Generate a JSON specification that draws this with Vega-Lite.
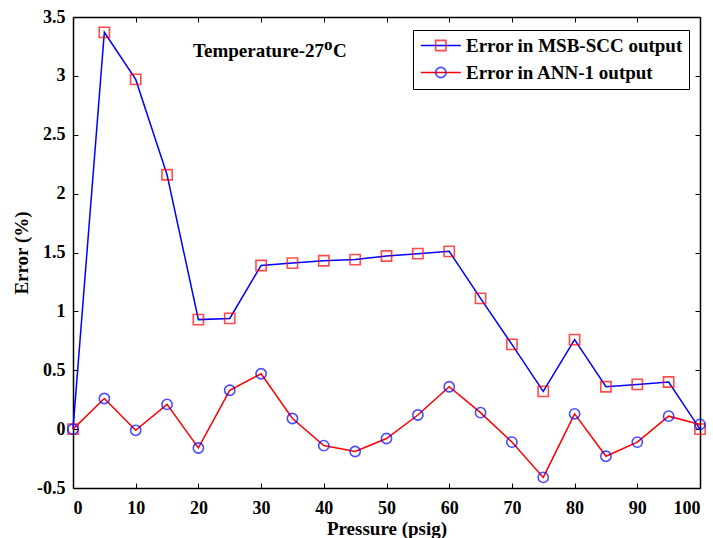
{
  "$schema": "https://vega.github.io/schema/vega-lite/v6.json",
  "width": 627,
  "height": 471,
  "autosize": "none",
  "padding": {"left": 73, "top": 17, "right": 13, "bottom": 50},
  "background": "white",
  "config": {
    "font": "Liberation Serif",
    "view": {"stroke": null},
    "axis": {
      "labelFont": "Liberation Serif", "labelFontWeight": "bold", "labelFontSize": 18, "labelColor": "black",
      "titleFont": "Liberation Serif", "titleFontWeight": "bold", "titleFontSize": 19, "titleColor": "black",
      "domainColor": "black", "domainWidth": 1.5, "tickColor": "black", "tickWidth": 1, "tickSize": -5,
      "grid": false
    }
  },
  "datasets": {
    "pts": [
      {"p": 0, "v": 0.0, "s1": "Error in MSB-SCC output", "s2": "MSB-SCC"},
      {"p": 5, "v": 3.37, "s1": "Error in MSB-SCC output", "s2": "MSB-SCC"},
      {"p": 10, "v": 2.97, "s1": "Error in MSB-SCC output", "s2": "MSB-SCC"},
      {"p": 15, "v": 2.16, "s1": "Error in MSB-SCC output", "s2": "MSB-SCC"},
      {"p": 20, "v": 0.93, "s1": "Error in MSB-SCC output", "s2": "MSB-SCC"},
      {"p": 25, "v": 0.94, "s1": "Error in MSB-SCC output", "s2": "MSB-SCC"},
      {"p": 30, "v": 1.39, "s1": "Error in MSB-SCC output", "s2": "MSB-SCC"},
      {"p": 35, "v": 1.41, "s1": "Error in MSB-SCC output", "s2": "MSB-SCC"},
      {"p": 40, "v": 1.43, "s1": "Error in MSB-SCC output", "s2": "MSB-SCC"},
      {"p": 45, "v": 1.44, "s1": "Error in MSB-SCC output", "s2": "MSB-SCC"},
      {"p": 50, "v": 1.47, "s1": "Error in MSB-SCC output", "s2": "MSB-SCC"},
      {"p": 55, "v": 1.49, "s1": "Error in MSB-SCC output", "s2": "MSB-SCC"},
      {"p": 60, "v": 1.51, "s1": "Error in MSB-SCC output", "s2": "MSB-SCC"},
      {"p": 65, "v": 1.11, "s1": "Error in MSB-SCC output", "s2": "MSB-SCC"},
      {"p": 70, "v": 0.72, "s1": "Error in MSB-SCC output", "s2": "MSB-SCC"},
      {"p": 75, "v": 0.32, "s1": "Error in MSB-SCC output", "s2": "MSB-SCC"},
      {"p": 80, "v": 0.76, "s1": "Error in MSB-SCC output", "s2": "MSB-SCC"},
      {"p": 85, "v": 0.36, "s1": "Error in MSB-SCC output", "s2": "MSB-SCC"},
      {"p": 90, "v": 0.38, "s1": "Error in MSB-SCC output", "s2": "MSB-SCC"},
      {"p": 95, "v": 0.40, "s1": "Error in MSB-SCC output", "s2": "MSB-SCC"},
      {"p": 100, "v": 0.0, "s1": "Error in MSB-SCC output", "s2": "MSB-SCC"},
      {"p": 0, "v": 0.0, "s1": "Error in ANN-1 output", "s2": "ANN-1"},
      {"p": 5, "v": 0.26, "s1": "Error in ANN-1 output", "s2": "ANN-1"},
      {"p": 10, "v": -0.01, "s1": "Error in ANN-1 output", "s2": "ANN-1"},
      {"p": 15, "v": 0.21, "s1": "Error in ANN-1 output", "s2": "ANN-1"},
      {"p": 20, "v": -0.16, "s1": "Error in ANN-1 output", "s2": "ANN-1"},
      {"p": 25, "v": 0.33, "s1": "Error in ANN-1 output", "s2": "ANN-1"},
      {"p": 30, "v": 0.47, "s1": "Error in ANN-1 output", "s2": "ANN-1"},
      {"p": 35, "v": 0.09, "s1": "Error in ANN-1 output", "s2": "ANN-1"},
      {"p": 40, "v": -0.14, "s1": "Error in ANN-1 output", "s2": "ANN-1"},
      {"p": 45, "v": -0.19, "s1": "Error in ANN-1 output", "s2": "ANN-1"},
      {"p": 50, "v": -0.08, "s1": "Error in ANN-1 output", "s2": "ANN-1"},
      {"p": 55, "v": 0.12, "s1": "Error in ANN-1 output", "s2": "ANN-1"},
      {"p": 60, "v": 0.36, "s1": "Error in ANN-1 output", "s2": "ANN-1"},
      {"p": 65, "v": 0.14, "s1": "Error in ANN-1 output", "s2": "ANN-1"},
      {"p": 70, "v": -0.11, "s1": "Error in ANN-1 output", "s2": "ANN-1"},
      {"p": 75, "v": -0.41, "s1": "Error in ANN-1 output", "s2": "ANN-1"},
      {"p": 80, "v": 0.13, "s1": "Error in ANN-1 output", "s2": "ANN-1"},
      {"p": 85, "v": -0.23, "s1": "Error in ANN-1 output", "s2": "ANN-1"},
      {"p": 90, "v": -0.11, "s1": "Error in ANN-1 output", "s2": "ANN-1"},
      {"p": 95, "v": 0.11, "s1": "Error in ANN-1 output", "s2": "ANN-1"},
      {"p": 100, "v": 0.04, "s1": "Error in ANN-1 output", "s2": "ANN-1"}
    ],
    "note": [
      {"p": 40.03, "v": 3.16, "t1": "Temperature-27", "t2": "o", "t3": "C"}
    ]
  },
  "layer": [
    {
      "data": {"name": "pts"},
      "mark": {"type": "point", "opacity": 0},
      "encoding": {
        "x": {"field": "p", "type": "quantitative", "scale": {"domain": [0, 100], "nice": false, "zero": false},
              "axis": {"orient": "top", "labels": false, "title": null, "values": [0,10,20,30,40,50,60,70,80,90,100]}},
        "y": {"field": "v", "type": "quantitative", "scale": {"domain": [-0.5, 3.5], "nice": false, "zero": false},
              "axis": {"orient": "right", "labels": false, "title": null, "values": [-0.5,0,0.5,1,1.5,2,2.5,3,3.5]}}
      }
    },
    {
      "layer": [
        {
          "data": {"name": "pts"},
          "mark": {"type": "line", "strokeWidth": 1.5},
          "encoding": {
            "x": {"field": "p", "type": "quantitative",
                  "axis": {"orient": "bottom", "title": "Pressure (psig)", "values": [0,10,20,30,40,50,60,70,80,90,100], "labelPadding": 16, "titlePadding": 2}},
            "y": {"field": "v", "type": "quantitative",
                  "axis": {"orient": "left", "title": "Error (%)", "values": [-0.5,0,0.5,1,1.5,2,2.5,3,3.5], "labelExpr": "datum.value + ''", "labelPadding": 13, "titlePadding": 5}},
            "stroke": {"field": "s1", "type": "nominal",
                       "scale": {"domain": ["Error in MSB-SCC output", "Error in ANN-1 output"], "range": ["#0000ff", "#ff0000"]},
                       "legend": {"orient": "none", "legendX": 340, "legendY": 13, "title": null,
                                  "symbolType": "M-3.9,0H3.9", "symbolSize": 105, "symbolStrokeWidth": 1.5, "symbolOffset": 12.3,
                                  "labelFont": "Liberation Serif", "labelFontWeight": "bold", "labelFontSize": 19, "labelColor": "black", "labelLimit": 400,
                                  "labelOffset": 15.7, "rowPadding": 7, "padding": 6,
                                  "strokeColor": "black", "fillColor": null}}
          }
        },
        {
          "data": {"name": "pts"},
          "mark": {"type": "point", "filled": false, "strokeWidth": 1.6, "size": 105},
          "encoding": {
            "x": {"field": "p", "type": "quantitative"},
            "y": {"field": "v", "type": "quantitative"},
            "color": {"field": "s2", "type": "nominal",
                      "scale": {"domain": ["MSB-SCC", "ANN-1"], "range": ["#ff0000", "#0000ff"]},
                      "legend": {"orient": "none", "legendX": 340, "legendY": 13, "title": null,
                                 "labelFont": "Liberation Serif", "labelFontWeight": "bold", "labelFontSize": 19, "labelColor": "transparent", "labelLimit": 400,
                                 "labelOffset": 15.7, "rowPadding": 7, "padding": 6, "symbolOffset": 12.3,
                                 "symbolStrokeWidth": 1.6, "symbolSize": 105}},
            "shape": {"field": "s2", "type": "nominal",
                      "scale": {"domain": ["MSB-SCC", "ANN-1"], "range": ["square", "circle"]}}
          }
        },
        {
          "data": {"name": "note"},
          "mark": {"type": "text", "font": "Liberation Serif", "fontWeight": "bold", "fontSize": 19, "align": "right", "baseline": "alphabetic", "color": "black"},
          "encoding": {"x": {"field": "p", "type": "quantitative"}, "y": {"field": "v", "type": "quantitative"}, "text": {"field": "t1"}}
        },
        {
          "data": {"name": "note"},
          "mark": {"type": "text", "font": "Liberation Serif", "fontWeight": "bold", "fontSize": 17, "align": "left", "baseline": "alphabetic", "dx": 0, "dy": -7, "color": "black"},
          "encoding": {"x": {"field": "p", "type": "quantitative"}, "y": {"field": "v", "type": "quantitative"}, "text": {"field": "t2"}}
        },
        {
          "data": {"name": "note"},
          "mark": {"type": "text", "font": "Liberation Serif", "fontWeight": "bold", "fontSize": 19, "align": "left", "baseline": "alphabetic", "dx": 9, "color": "black"},
          "encoding": {"x": {"field": "p", "type": "quantitative"}, "y": {"field": "v", "type": "quantitative"}, "text": {"field": "t3"}}
        }
      ]
    }
  ],
  "resolve": {"axis": {"x": "independent", "y": "independent"}}
}
